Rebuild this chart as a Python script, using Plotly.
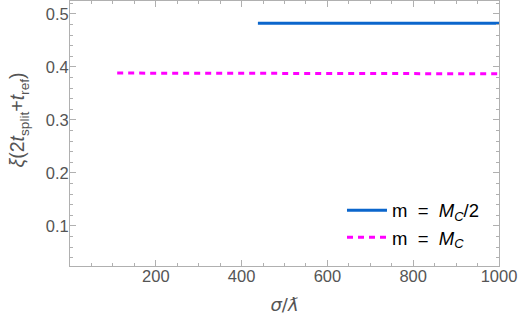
import plotly.graph_objects as go

# values
sigma_half = [438, 1000]
xi_half = [0.4825, 0.4825]

sigma_full = [110, 1000]
xi_full = [0.3885, 0.3872]

x_ticks = [200, 400, 600, 800, 1000]
y_ticks = [0.1, 0.2, 0.3, 0.4, 0.5]

FRAME = "#b0b0b0"
LABEL_GRAY = "#555555"
SANS = "Liberation Sans, Arial, sans-serif"

fig = go.Figure()
fig.add_trace(go.Scatter(
    x=sigma_half, y=xi_half, mode="lines",
    name="m&nbsp;&nbsp;=&nbsp;&nbsp;<i>M<sub>C</sub></i>/2",
    line=dict(color="#0b66cc", width=3),
))
fig.add_trace(go.Scatter(
    x=sigma_full, y=xi_full, mode="lines",
    name="m&nbsp;&nbsp;=&nbsp;&nbsp;<i>M<sub>C</sub></i>",
    line=dict(color="#ff00ff", width=3, dash="6px,5px"),
))

axis_common = dict(
    showgrid=False, zeroline=False,
    showline=True, linecolor=FRAME, linewidth=1, mirror="ticks",
    ticks="inside", ticklen=6, tickcolor=FRAME,
    tickfont=dict(family=SANS, size=16.5, color=LABEL_GRAY),
)

# leading spaces nudge the rotated title upward, as in the reference
y_title = "&nbsp;" * 5 + "<i>ξ</i>(2<i>t</i><sub>split</sub>+<i>t</i><sub>ref</sub>)"

fig.update_layout(
    width=523, height=330,
    margin=dict(l=70, r=24, t=1, b=64),
    plot_bgcolor="white", paper_bgcolor="white",
    showlegend=True,
    legend=dict(
        x=0.965, y=0.035, xanchor="right", yanchor="bottom",
        bgcolor="rgba(0,0,0,0)",
        font=dict(family=SANS, size=18.5, color="black"),
        itemwidth=40, tracegroupgap=0,
    ),
    xaxis=dict(
        range=[0, 1000], tickvals=x_ticks, ticklabelstandoff=-5,
        minor=dict(dtick=50, ticks="inside", ticklen=3, tickcolor=FRAME),
        title=dict(text="<i>σ</i>/<i>ƛ</i>", standoff=14,
                   font=dict(family="DejaVu Sans, sans-serif", size=18, color=LABEL_GRAY)),
        **axis_common,
    ),
    yaxis=dict(
        range=[0.0245, 0.5245], tickvals=y_ticks, ticklabelstandoff=-3,
        minor=dict(dtick=0.02, tick0=0, ticks="inside", ticklen=3, tickcolor=FRAME),
        title=dict(text=y_title, standoff=15,
                   font=dict(family=SANS, size=19.5, color=LABEL_GRAY)),
        **axis_common,
    ),
)

fig.write_html("out.html", config={"displayModeBar": False},
               post_script="document.body.style.margin='0';")
